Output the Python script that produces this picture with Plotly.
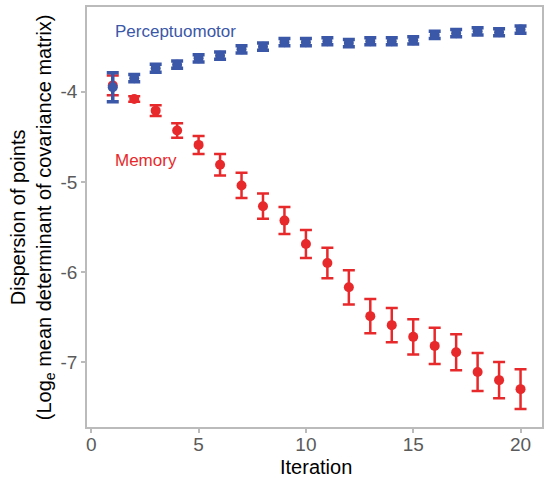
import plotly.graph_objects as go

iteration = list(range(1, 21))
memory_mean = [-3.93, -4.08, -4.21, -4.43, -4.59, -4.81, -5.04, -5.27, -5.43, -5.69,
               -5.90, -6.17, -6.49, -6.59, -6.72, -6.82, -6.89, -7.11, -7.20, -7.30]
memory_err = [0.11, 0.03, 0.06, 0.08, 0.10, 0.12, 0.14, 0.14, 0.15, 0.155,
              0.17, 0.19, 0.19, 0.19, 0.195, 0.20, 0.20, 0.21, 0.20, 0.22]
percep_mean = [-3.95, -3.85, -3.74, -3.70, -3.63, -3.60, -3.53, -3.50, -3.45, -3.45,
               -3.44, -3.46, -3.44, -3.44, -3.43, -3.37, -3.35, -3.33, -3.34, -3.31]
percep_err = [0.16, 0.04, 0.045, 0.04, 0.04, 0.04, 0.04, 0.04, 0.04, 0.04,
              0.04, 0.04, 0.04, 0.04, 0.04, 0.04, 0.04, 0.04, 0.04, 0.04]

RED = "#e8292b"
BLUE = "#3b57a8"
FONT = "Liberation Sans, Arial"

fig = go.Figure()
fig.add_trace(go.Scatter(
    x=iteration, y=memory_mean, mode="markers",
    marker=dict(color=RED, size=10),
    error_y=dict(type="data", array=memory_err, color=RED, thickness=2.5, width=6),
    showlegend=False))
fig.add_trace(go.Scatter(
    x=iteration, y=percep_mean, mode="markers",
    marker=dict(color=BLUE, size=10),
    error_y=dict(type="data", array=percep_err, color=BLUE, thickness=3.5, width=6),
    showlegend=False))

fig.add_annotation(x=1.0, y=-3.33, text="Perceptuomotor", showarrow=False,
                   xanchor="left", yanchor="middle",
                   font=dict(family=FONT, size=17, color=BLUE))
fig.add_annotation(x=1.0, y=-4.76, text="Memory", showarrow=False,
                   xanchor="left", yanchor="middle",
                   font=dict(family=FONT, size=17, color=RED))

fig.add_annotation(xref="paper", yref="paper", x=(32 - 87) / 457, y=0.5,
                   text="Dispersion of points<br>(Log<sub>e</sub> mean determinant of covariance matrix)",
                   textangle=-90, showarrow=False, xanchor="center", yanchor="middle",
                   font=dict(family=FONT, size=20, color="black"))
fig.add_annotation(xref="paper", yref="paper", x=(317 - 87) / 457, y=(427 - 467) / 420,
                   text="Iteration", showarrow=False, xanchor="center", yanchor="middle",
                   font=dict(family=FONT, size=20, color="black"))

axis_common = dict(showgrid=False, zeroline=False, showline=True, linecolor="#bbbbbb",
                   linewidth=1.5, mirror=True, ticks="outside", tickcolor="#bbbbbb",
                   ticklen=4, tickwidth=1.5,
                   tickfont=dict(family=FONT, size=19, color="#5a5a5a"))

fig.update_xaxes(range=[-0.2, 21.0], tickvals=[0, 5, 10, 15, 20],
                 ticklabelstandoff=-5, **axis_common)
fig.update_yaxes(range=[-7.72, -3.06], tickvals=[-4, -5, -6, -7],
                 ticktext=["-4", "-5", "-6", "-7"], **axis_common)

fig.update_layout(width=545, height=478, plot_bgcolor="white", paper_bgcolor="white",
                  margin=dict(l=87, r=1, t=7, b=51))

fig.write_html("out.html")
